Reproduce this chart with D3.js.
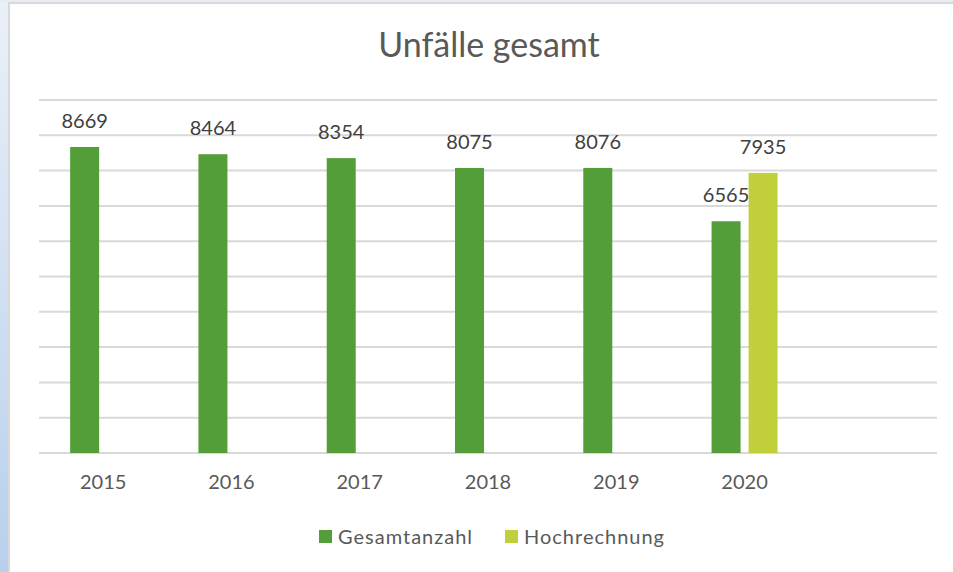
<!DOCTYPE html>
<html>
<head>
<meta charset="utf-8">
<script src="https://cdn.jsdelivr.net/npm/d3@7"></script>
<style>
  html, body { margin: 0; padding: 0; background: #fff; }
  svg { display: block; font-family: Lato, "Open Sans", sans-serif; }
</style>
</head>
<body>
<div id="chart"></div>
<script>
// Chart data
const years = ["2015", "2016", "2017", "2018", "2019", "2020", ""];
const seriesNames = ["Gesamtanzahl", "Hochrechnung"];
const gesamtanzahl = [8669, 8464, 8354, 8075, 8076, 6565, null];
const hochrechnung = [null, null, null, null, null, 7935, null];
const colors = ["#549E39", "#C0CF3A"];

const width = 953;
const height = 572;
const margin = { top: 100, right: 16, bottom: 119, left: 39 };

const svg = d3
  .select("#chart")
  .append("svg")
  .attr("width", width)
  .attr("height", height);

// Background strip on the left and top (window frame)
const defs = svg.append("defs");
const grad = defs
  .append("linearGradient")
  .attr("id", "frame")
  .attr("x1", 0).attr("y1", 0).attr("x2", 0).attr("y2", 1);
grad.append("stop").attr("offset", "0%").attr("stop-color", "#EAF0F8");
grad.append("stop").attr("offset", "100%").attr("stop-color", "#B7D0EC");

svg.append("rect").attr("x", 0).attr("y", 0).attr("width", width).attr("height", height).attr("fill", "url(#frame)");
svg.append("rect").attr("x", 0).attr("y", 0).attr("width", width).attr("height", 3).attr("fill", "#E6ECF4");
svg.append("rect").attr("x", 8).attr("y", 2).attr("width", width - 8).attr("height", height).attr("fill", "#D9D9D9");
svg.append("rect").attr("x", 10).attr("y", 4).attr("width", width - 10).attr("height", height).attr("fill", "#fff");

// Scales
const x0 = d3
  .scaleBand()
  .domain(years)
  .range([margin.left, width - margin.right])
  .padding(0);

const x1 = d3
  .scaleBand()
  .domain(seriesNames)
  .range([-33, 33])
  .paddingInner(0.216);

const y = d3
  .scaleLinear()
  .domain([0, 10000])
  .range([height - margin.bottom, margin.top]);

// Gridlines
svg
  .append("g")
  .selectAll("line")
  .data(y.ticks(10))
  .join("line")
  .attr("x1", margin.left)
  .attr("x2", width - margin.right)
  .attr("y1", (d) => y(d))
  .attr("y2", (d) => y(d))
  .attr("stroke", "#D9D9D9")
  .attr("stroke-width", 2);

// Bars
const rows = [];
years.forEach((yr, i) => {
  if (gesamtanzahl[i] != null) rows.push({ year: yr, series: seriesNames[0], value: gesamtanzahl[i], color: colors[0] });
  if (hochrechnung[i] != null) rows.push({ year: yr, series: seriesNames[1], value: hochrechnung[i], color: colors[1] });
});

const center = (d) => x0(d.year) + x0.bandwidth() / 2;

svg
  .append("g")
  .selectAll("rect")
  .data(rows)
  .join("rect")
  .attr("x", (d) => center(d) + x1(d.series))
  .attr("y", (d) => y(d.value))
  .attr("width", x1.bandwidth())
  .attr("height", (d) => y(0) - y(d.value))
  .attr("fill", (d) => d.color);

// Data labels
svg
  .append("g")
  .selectAll("text")
  .data(rows)
  .join("text")
  .attr("x", (d) => center(d) + x1(d.series) + x1.bandwidth() / 2)
  .attr("y", (d) => y(d.value) - 19)
  .attr("text-anchor", "middle")
  .style("font-size", "20px")
  .style("fill", "#404040")
  .text((d) => d.value);

// X axis labels
const xAxis = svg
  .append("g")
  .attr("transform", `translate(0, ${height - margin.bottom})`)
  .call(d3.axisBottom(x0).tickSize(0).tickPadding(22));
xAxis.select(".domain").remove();
xAxis
  .selectAll("text")
  .attr("dy", "0.71em")
  .style("font-family", "Lato, 'Open Sans', sans-serif")
  .style("font-size", "20px")
  .style("fill", "#595959");

// Title
svg
  .append("text")
  .text("Unfälle gesamt")
  .attr("x", 489)
  .attr("y", 57)
  .attr("text-anchor", "middle")
  .style("font-size", "34px")
  .style("fill", "#595959");

// Legend
const legendX = [319, 505];
const legend = svg
  .append("g")
  .selectAll("g")
  .data(seriesNames)
  .join("g")
  .attr("transform", (d, i) => `translate(${legendX[i]}, 530)`);
legend
  .append("rect")
  .attr("width", 13)
  .attr("height", 13)
  .attr("fill", (d, i) => colors[i]);
legend
  .append("text")
  .attr("x", 19)
  .attr("y", 14)
  .style("font-size", "20px")
  .style("letter-spacing", "1px")
  .style("fill", "#595959")
  .text((d) => d);
</script>
</body>
</html>
